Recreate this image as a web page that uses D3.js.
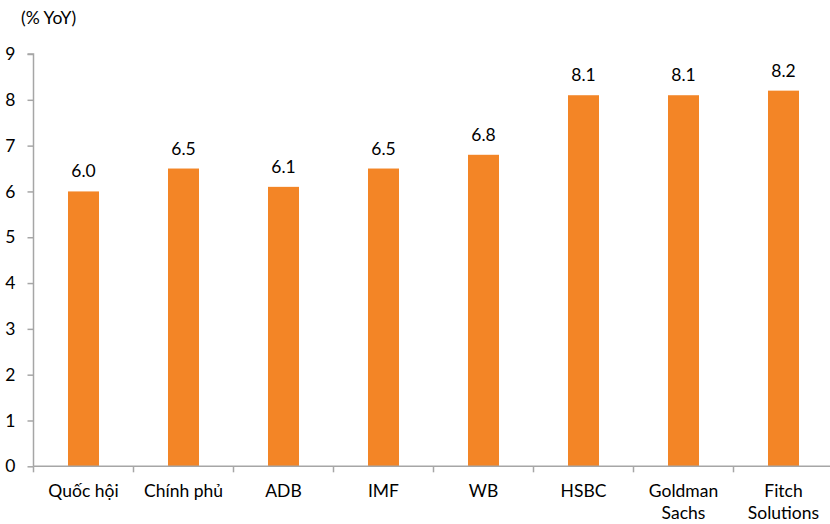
<!DOCTYPE html>
<html><head><meta charset="utf-8">
<script src="https://cdn.jsdelivr.net/npm/d3@7"></script>
<style>body{margin:0;background:#fff}svg{display:block}text{font-family:Lato,"Open Sans",sans-serif;fill:#000}</style>
</head><body><svg id="c" width="830" height="524"></svg>
<script>
const categories = [["Quốc hội"],["Chính phủ"],["ADB"],["IMF"],["WB"],["HSBC"],["Goldman","Sachs"],["Fitch","Solutions"]];
const values = [6.0, 6.5, 6.1, 6.5, 6.8, 8.1, 8.1, 8.2];
const yTicks = [0,1,2,3,4,5,6,7,8,9];
const unitLabel = "(% YoY)";

const svg = d3.select("#c");
const x0 = 33.5, x1 = 833.5, yTop = 54, yBot = 466.3;
const fs = 17.5;
const idx = d3.range(categories.length);
const xb = d3.scaleBand().domain(idx).range([x0, x1]);
const y = d3.scaleLinear().domain([0, 9]).range([yBot, yTop]);
const axisColor = "#a6a6a6";

// bars
svg.append("g").selectAll("rect").data(values).join("rect")
  .attr("x", (d,i)=> xb(i) + xb.bandwidth()/2 - 15.5)
  .attr("width", 31)
  .attr("y", d=> y(d)).attr("height", d=> y(0)-y(d))
  .attr("fill", "#f38526");

// value labels
svg.append("g").selectAll("text").data(values).join("text")
  .attr("x", (d,i)=> xb(i) + xb.bandwidth()/2)
  .attr("y", d=> y(d) - 14)
  .attr("text-anchor","middle").attr("font-size",fs)
  .text(d=> d3.format(".1f")(d));

// y axis
const ya = svg.append("g").attr("transform",`translate(${x0},0)`)
  .call(d3.axisLeft(y).tickValues(yTicks).tickSize(6).tickPadding(12).tickFormat(d3.format("d")));
ya.select(".domain").attr("stroke",axisColor).attr("stroke-width",1.5).attr("d",`M-6,${yTop}H0V${yBot}`);
ya.selectAll(".tick line").attr("stroke",axisColor).attr("stroke-width",1.5);
ya.selectAll(".tick text").attr("font-size",fs).attr("font-family","Lato").attr("fill","#000");

// x axis
const xg = svg.append("g");
xg.append("line").attr("x1",x0).attr("x2",x1).attr("y1",yBot).attr("y2",yBot).attr("stroke",axisColor).attr("stroke-width",1.5);
xg.selectAll("line.t").data(d3.range(categories.length+1)).join("line").attr("class","t")
  .attr("x1",i=> x0 + i*xb.bandwidth()).attr("x2",i=> x0 + i*xb.bandwidth())
  .attr("y1",yBot).attr("y2",yBot+6).attr("stroke",axisColor).attr("stroke-width",1.5);
xg.selectAll("text").data(categories).join("text")
  .attr("text-anchor","middle").attr("font-size",fs)
  .attr("x",(d,i)=> xb(i)+xb.bandwidth()/2)
  .attr("y",497)
  .each(function(d){
    const t=d3.select(this);
    d.forEach((s,j)=> t.append("tspan").attr("x",t.attr("x")).attr("dy", j? 22:0).text(s));
  });

svg.append("text").attr("x",21).attr("y",24).attr("font-size",fs).text(unitLabel);
</script></body></html>
